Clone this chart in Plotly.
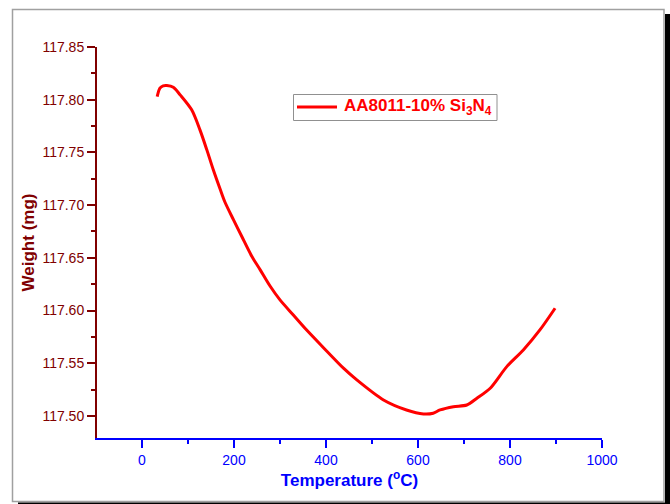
import plotly.graph_objects as go

# Data
temperature = [33, 39, 46, 54, 68, 83, 108, 126, 141, 155, 170, 180, 199, 217, 239, 257,
               278, 300, 329, 358, 394, 438, 467, 525, 575, 612, 633, 648, 677, 706, 728,
               757, 793, 829, 865, 898]
weight = [117.803, 117.811, 117.8132, 117.8135, 117.8119, 117.8046, 117.7904, 117.7714,
          117.7524, 117.7335, 117.7150, 117.7032, 117.6860, 117.6702, 117.6512, 117.6386,
          117.6235, 117.6101, 117.5958, 117.5815, 117.5650, 117.5453, 117.5342, 117.5152,
          117.5057, 117.5019, 117.5026, 117.5057, 117.5088, 117.5104, 117.5168, 117.5263,
          117.5468, 117.5626, 117.5816, 117.6022]
series_name = "AA8011-10% Si<sub>3</sub>N<sub>4</sub>"
x_ticks = [0, 200, 400, 600, 800, 1000]
y_ticks = [117.50, 117.55, 117.60, 117.65, 117.70, 117.75, 117.80, 117.85]

W, H = 670, 504
L, R, T, B = 97, 68, 47, 66
PW, PH = W - L - R, H - T - B

def px(x):
    return (x - L) / PW

def py(y):
    return (H - B - y) / PH

MAROON = "#800000"
BLUE = "#0000ff"
RED = "#ff0000"
FONT = "Arial, Liberation Sans, sans-serif"

fig = go.Figure()
fig.add_trace(go.Scatter(
    x=temperature, y=weight, mode="lines", name=series_name, showlegend=False,
    line=dict(color=RED, width=3, shape="spline", smoothing=0.8),
))

# Legend drawn as box + sample line + label (matches the reference's legend geometry)
legend_y = py(107)
fig.add_annotation(
    xref="paper", yref="paper", x=px(342), y=legend_y, xanchor="left", yanchor="middle",
    text=f"<b>{series_name}</b>", showarrow=False,
    font=dict(family=FONT, size=17, color=RED),
)

fig.update_layout(
    width=W, height=H,
    margin=dict(l=L, r=R, t=T, b=B, autoexpand=False),
    paper_bgcolor="white", plot_bgcolor="white",
    font=dict(family=FONT),
    showlegend=False,
    xaxis=dict(
        range=[-97.8, 1000], tickvals=x_ticks, ticks="outside", ticklen=8, tickwidth=2,
        tickcolor=BLUE, showline=True, linecolor=BLUE, linewidth=2, showgrid=False,
        zeroline=False, tickfont=dict(family=FONT, size=14, color=BLUE),
        minor=dict(ticks="outside", ticklen=4, tickwidth=2, tickcolor=BLUE, dtick=100, showgrid=False),
        title=dict(text="Temperature (<sup>o</sup>C)", standoff=0,
                   font=dict(family=FONT, size=17, color=BLUE, weight="bold")),
    ),
    yaxis=dict(
        range=[117.4791, 117.85], tickvals=y_ticks, tickformat=".2f", ticks="outside",
        ticklen=8, tickwidth=2, tickcolor=MAROON, showline=True, linecolor=MAROON,
        linewidth=2, showgrid=False, zeroline=False,
        tickfont=dict(family=FONT, size=14, color=MAROON),
        minor=dict(ticks="outside", ticklen=4, tickwidth=2, tickcolor=MAROON, dtick=0.025, showgrid=False),
        title=dict(text="Weight (mg)", standoff=3,
                   font=dict(family=FONT, size=17, color=MAROON, weight="bold")),
    ),
    shapes=[
        dict(type="rect", xref="paper", yref="paper", x0=px(12.5), x1=px(664), y0=py(501.5), y1=py(9.5),
             line=dict(color="#a0a0a0", width=1.5), fillcolor="rgba(0,0,0,0)", layer="below"),
        dict(type="rect", xref="paper", yref="paper", x0=px(665), x1=px(670), y0=py(504), y1=py(14),
             line=dict(width=0), fillcolor="black"),
        dict(type="rect", xref="paper", yref="paper", x0=px(18), x1=px(670), y0=py(504), y1=py(502.5),
             line=dict(width=0), fillcolor="black"),
        # legend box and sample line
        dict(type="rect", xref="paper", yref="paper", x0=px(293.5), x1=px(497), y0=py(120.5), y1=py(94.5),
             line=dict(color="#909090", width=1), fillcolor="white"),
        dict(type="line", xref="paper", yref="paper", x0=px(297), x1=px(337), y0=legend_y, y1=legend_y,
             line=dict(color=RED, width=3)),
    ],
)

fig.write_html("out.html", config={"displayModeBar": False},
               post_script="document.body.style.margin='0px';document.body.style.overflow='hidden';")
